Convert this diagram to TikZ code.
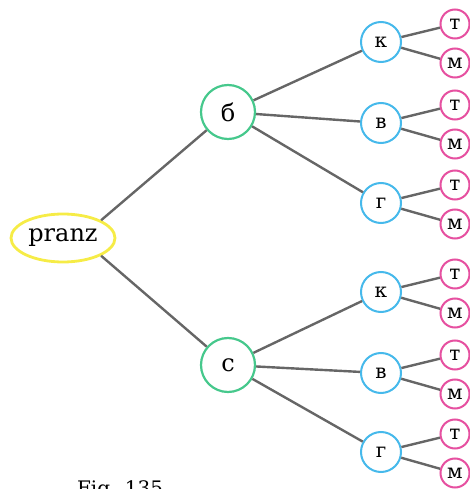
\documentclass[tikz,border=0pt]{standalone}
\usepackage{fontspec}
\setmainfont{DejaVu Serif}
\usetikzlibrary{shapes.geometric}

\definecolor{rootyellow}{RGB}{246,236,70}
\definecolor{levelgreen}{RGB}{70,200,140}
\definecolor{levelblue}{RGB}{70,185,235}
\definecolor{leafpink}{RGB}{230,80,160}

\begin{document}
\begin{tikzpicture}[x=0.5pt, y=0.5pt,
    edge/.style={draw=black!60, line width=1.2pt},
    rootnode/.style={ellipse, draw=rootyellow, line width=1.4pt, fill=white,
        minimum width=52pt, minimum height=24pt, inner sep=0pt, font=\large},
    firstnode/.style={circle, draw=levelgreen, line width=1.1pt, fill=white,
        minimum size=27pt, inner sep=0pt, font=\large},
    secondnode/.style={circle, draw=levelblue, line width=1pt, fill=white,
        minimum size=20pt, inner sep=0pt},
    leafnode/.style={circle, draw=leafpink, line width=1pt, fill=white,
        minimum size=14.5pt, inner sep=0pt}]
    \useasboundingbox (0,0) rectangle (470,489);
    \clip (0,0) rectangle (470,489);
    % root and first level
    \node[rootnode] (root) at (63,251) {pranz};
    \node[firstnode] (b) at (228,377) {б};
    \node[firstnode] (s) at (228,124) {с};
    \draw[edge] (root.25) -- (b);
    \draw[edge] (root.-25) -- (s);
    % second level and leaves
    \foreach \y/\n/\p/\t in {447/k1/b/к, 366/v1/b/в, 286/g1/b/г,
                             197/k2/s/к, 116/v2/s/в, 37/g2/s/г} {
        \node[secondnode] (\n) at (381,\y) {\t};
        \node[leafnode] (\n-t) at (455,\y+18) {т};
        \node[leafnode] (\n-m) at (455,\y-21) {м};
        \draw[edge] (\p) -- (\n);
        \draw[edge] (\n) -- (\n-t);
        \draw[edge] (\n) -- (\n-m);
    }
    \node[anchor=base west] (caption) at (70,-6) {Fig. 135};
\end{tikzpicture}
\end{document}
